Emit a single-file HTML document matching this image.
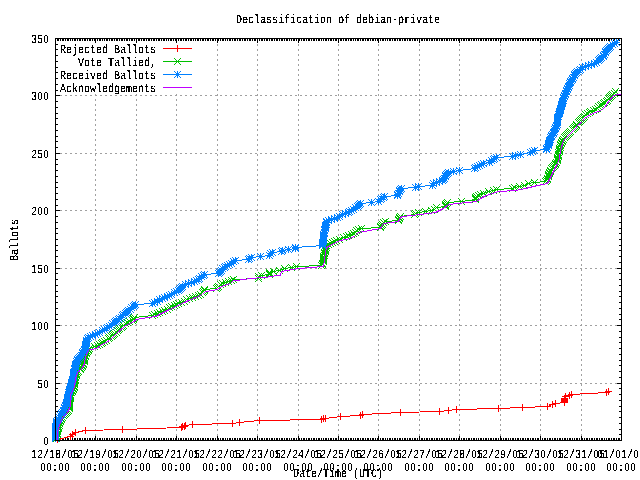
<!DOCTYPE html><html><head><meta charset="utf-8"><style>html,body{margin:0;padding:0;background:#fff;width:640px;height:480px;overflow:hidden}svg{display:block;will-change:transform}text{font-family:"Liberation Mono","DejaVu Sans Mono",monospace;font-size:12.0px;fill:#000;text-rendering:geometricPrecision}.z{font-family:"Liberation Sans",sans-serif;font-size:11.5px}</style></head><body>
<svg width="640" height="480" viewBox="0 0 640 480" shape-rendering="crispEdges">
<defs><filter id="crisp" filterUnits="userSpaceOnUse" x="0" y="0" width="640" height="480" color-interpolation-filters="sRGB"><feComponentTransfer><feFuncA type="discrete" tableValues="0 0 1 1 1"/></feComponentTransfer></filter></defs>
<rect width="640" height="480" fill="#fff"/>
<path d="M95.5 441V38M136.5 441V38M176.5 441V38M217.5 441V38M257.5 441V38M298.5 441V38M338.5 441V38M378.5 441V38M419.5 441V38M459.5 441V38M500.5 441V38M540.5 441V38M581.5 441V38M55 383.5H621M55 325.5H621M55 268.5H621M55 210.5H621M55 153.5H621M55 95.5H621" stroke="#a0a0a0" stroke-dasharray="2 3" fill="none"/>
<rect x="56" y="39" width="140" height="55" fill="#fff"/>
<path d="M55 440.5h5M622 440.5h-5M55 434.5h3M622 434.5h-3M55 429.5h3M622 429.5h-3M55 423.5h3M622 423.5h-3M55 417.5h3M622 417.5h-3M55 411.5h3M622 411.5h-3M55 406.5h3M622 406.5h-3M55 400.5h3M622 400.5h-3M55 394.5h3M622 394.5h-3M55 388.5h3M622 388.5h-3M55 383.5h5M622 383.5h-5M55 377.5h3M622 377.5h-3M55 371.5h3M622 371.5h-3M55 365.5h3M622 365.5h-3M55 360.5h3M622 360.5h-3M55 354.5h3M622 354.5h-3M55 348.5h3M622 348.5h-3M55 342.5h3M622 342.5h-3M55 337.5h3M622 337.5h-3M55 331.5h3M622 331.5h-3M55 325.5h5M622 325.5h-5M55 319.5h3M622 319.5h-3M55 314.5h3M622 314.5h-3M55 308.5h3M622 308.5h-3M55 302.5h3M622 302.5h-3M55 296.5h3M622 296.5h-3M55 291.5h3M622 291.5h-3M55 285.5h3M622 285.5h-3M55 279.5h3M622 279.5h-3M55 273.5h3M622 273.5h-3M55 268.5h5M622 268.5h-5M55 262.5h3M622 262.5h-3M55 256.5h3M622 256.5h-3M55 250.5h3M622 250.5h-3M55 245.5h3M622 245.5h-3M55 239.5h3M622 239.5h-3M55 233.5h3M622 233.5h-3M55 228.5h3M622 228.5h-3M55 222.5h3M622 222.5h-3M55 216.5h3M622 216.5h-3M55 210.5h5M622 210.5h-5M55 205.5h3M622 205.5h-3M55 199.5h3M622 199.5h-3M55 193.5h3M622 193.5h-3M55 187.5h3M622 187.5h-3M55 182.5h3M622 182.5h-3M55 176.5h3M622 176.5h-3M55 170.5h3M622 170.5h-3M55 164.5h3M622 164.5h-3M55 159.5h3M622 159.5h-3M55 153.5h5M622 153.5h-5M55 147.5h3M622 147.5h-3M55 141.5h3M622 141.5h-3M55 136.5h3M622 136.5h-3M55 130.5h3M622 130.5h-3M55 124.5h3M622 124.5h-3M55 118.5h3M622 118.5h-3M55 113.5h3M622 113.5h-3M55 107.5h3M622 107.5h-3M55 101.5h3M622 101.5h-3M55 95.5h5M622 95.5h-5M55 90.5h3M622 90.5h-3M55 84.5h3M622 84.5h-3M55 78.5h3M622 78.5h-3M55 72.5h3M622 72.5h-3M55 67.5h3M622 67.5h-3M55 61.5h3M622 61.5h-3M55 55.5h3M622 55.5h-3M55 49.5h3M622 49.5h-3M55 44.5h3M622 44.5h-3M55 38.5h5M622 38.5h-5M55.5 441v-5M55.5 38v5M57.5 441v-3M57.5 38v3M58.5 441v-3M58.5 38v3M60.5 441v-3M60.5 38v3M62.5 441v-3M62.5 38v3M63.5 441v-3M63.5 38v3M65.5 441v-3M65.5 38v3M67.5 441v-3M67.5 38v3M68.5 441v-3M68.5 38v3M70.5 441v-3M70.5 38v3M72.5 441v-3M72.5 38v3M74.5 441v-3M74.5 38v3M75.5 441v-3M75.5 38v3M77.5 441v-3M77.5 38v3M79.5 441v-3M79.5 38v3M80.5 441v-3M80.5 38v3M82.5 441v-3M82.5 38v3M84.5 441v-3M84.5 38v3M85.5 441v-3M85.5 38v3M87.5 441v-3M87.5 38v3M89.5 441v-3M89.5 38v3M90.5 441v-3M90.5 38v3M92.5 441v-3M92.5 38v3M94.5 441v-3M94.5 38v3M95.5 441v-5M95.5 38v5M97.5 441v-3M97.5 38v3M99.5 441v-3M99.5 38v3M100.5 441v-3M100.5 38v3M102.5 441v-3M102.5 38v3M104.5 441v-3M104.5 38v3M106.5 441v-3M106.5 38v3M107.5 441v-3M107.5 38v3M109.5 441v-3M109.5 38v3M111.5 441v-3M111.5 38v3M112.5 441v-3M112.5 38v3M114.5 441v-3M114.5 38v3M116.5 441v-3M116.5 38v3M117.5 441v-3M117.5 38v3M119.5 441v-3M119.5 38v3M121.5 441v-3M121.5 38v3M122.5 441v-3M122.5 38v3M124.5 441v-3M124.5 38v3M126.5 441v-3M126.5 38v3M127.5 441v-3M127.5 38v3M129.5 441v-3M129.5 38v3M131.5 441v-3M131.5 38v3M132.5 441v-3M132.5 38v3M134.5 441v-3M134.5 38v3M136.5 441v-5M136.5 38v5M138.5 441v-3M138.5 38v3M139.5 441v-3M139.5 38v3M141.5 441v-3M141.5 38v3M143.5 441v-3M143.5 38v3M144.5 441v-3M144.5 38v3M146.5 441v-3M146.5 38v3M148.5 441v-3M148.5 38v3M149.5 441v-3M149.5 38v3M151.5 441v-3M151.5 38v3M153.5 441v-3M153.5 38v3M154.5 441v-3M154.5 38v3M156.5 441v-3M156.5 38v3M158.5 441v-3M158.5 38v3M159.5 441v-3M159.5 38v3M161.5 441v-3M161.5 38v3M163.5 441v-3M163.5 38v3M164.5 441v-3M164.5 38v3M166.5 441v-3M166.5 38v3M168.5 441v-3M168.5 38v3M170.5 441v-3M170.5 38v3M171.5 441v-3M171.5 38v3M173.5 441v-3M173.5 38v3M175.5 441v-3M175.5 38v3M176.5 441v-5M176.5 38v5M178.5 441v-3M178.5 38v3M180.5 441v-3M180.5 38v3M181.5 441v-3M181.5 38v3M183.5 441v-3M183.5 38v3M185.5 441v-3M185.5 38v3M186.5 441v-3M186.5 38v3M188.5 441v-3M188.5 38v3M190.5 441v-3M190.5 38v3M191.5 441v-3M191.5 38v3M193.5 441v-3M193.5 38v3M195.5 441v-3M195.5 38v3M197.5 441v-3M197.5 38v3M198.5 441v-3M198.5 38v3M200.5 441v-3M200.5 38v3M202.5 441v-3M202.5 38v3M203.5 441v-3M203.5 38v3M205.5 441v-3M205.5 38v3M207.5 441v-3M207.5 38v3M208.5 441v-3M208.5 38v3M210.5 441v-3M210.5 38v3M212.5 441v-3M212.5 38v3M213.5 441v-3M213.5 38v3M215.5 441v-3M215.5 38v3M217.5 441v-5M217.5 38v5M218.5 441v-3M218.5 38v3M220.5 441v-3M220.5 38v3M222.5 441v-3M222.5 38v3M223.5 441v-3M223.5 38v3M225.5 441v-3M225.5 38v3M227.5 441v-3M227.5 38v3M229.5 441v-3M229.5 38v3M230.5 441v-3M230.5 38v3M232.5 441v-3M232.5 38v3M234.5 441v-3M234.5 38v3M235.5 441v-3M235.5 38v3M237.5 441v-3M237.5 38v3M239.5 441v-3M239.5 38v3M240.5 441v-3M240.5 38v3M242.5 441v-3M242.5 38v3M244.5 441v-3M244.5 38v3M245.5 441v-3M245.5 38v3M247.5 441v-3M247.5 38v3M249.5 441v-3M249.5 38v3M250.5 441v-3M250.5 38v3M252.5 441v-3M252.5 38v3M254.5 441v-3M254.5 38v3M255.5 441v-3M255.5 38v3M257.5 441v-5M257.5 38v5M259.5 441v-3M259.5 38v3M261.5 441v-3M261.5 38v3M262.5 441v-3M262.5 38v3M264.5 441v-3M264.5 38v3M266.5 441v-3M266.5 38v3M267.5 441v-3M267.5 38v3M269.5 441v-3M269.5 38v3M271.5 441v-3M271.5 38v3M272.5 441v-3M272.5 38v3M274.5 441v-3M274.5 38v3M276.5 441v-3M276.5 38v3M277.5 441v-3M277.5 38v3M279.5 441v-3M279.5 38v3M281.5 441v-3M281.5 38v3M282.5 441v-3M282.5 38v3M284.5 441v-3M284.5 38v3M286.5 441v-3M286.5 38v3M287.5 441v-3M287.5 38v3M289.5 441v-3M289.5 38v3M291.5 441v-3M291.5 38v3M293.5 441v-3M293.5 38v3M294.5 441v-3M294.5 38v3M296.5 441v-3M296.5 38v3M298.5 441v-5M298.5 38v5M299.5 441v-3M299.5 38v3M301.5 441v-3M301.5 38v3M303.5 441v-3M303.5 38v3M304.5 441v-3M304.5 38v3M306.5 441v-3M306.5 38v3M308.5 441v-3M308.5 38v3M309.5 441v-3M309.5 38v3M311.5 441v-3M311.5 38v3M313.5 441v-3M313.5 38v3M314.5 441v-3M314.5 38v3M316.5 441v-3M316.5 38v3M318.5 441v-3M318.5 38v3M319.5 441v-3M319.5 38v3M321.5 441v-3M321.5 38v3M323.5 441v-3M323.5 38v3M325.5 441v-3M325.5 38v3M326.5 441v-3M326.5 38v3M328.5 441v-3M328.5 38v3M330.5 441v-3M330.5 38v3M331.5 441v-3M331.5 38v3M333.5 441v-3M333.5 38v3M335.5 441v-3M335.5 38v3M336.5 441v-3M336.5 38v3M338.5 441v-5M338.5 38v5M340.5 441v-3M340.5 38v3M341.5 441v-3M341.5 38v3M343.5 441v-3M343.5 38v3M345.5 441v-3M345.5 38v3M346.5 441v-3M346.5 38v3M348.5 441v-3M348.5 38v3M350.5 441v-3M350.5 38v3M351.5 441v-3M351.5 38v3M353.5 441v-3M353.5 38v3M355.5 441v-3M355.5 38v3M357.5 441v-3M357.5 38v3M358.5 441v-3M358.5 38v3M360.5 441v-3M360.5 38v3M362.5 441v-3M362.5 38v3M363.5 441v-3M363.5 38v3M365.5 441v-3M365.5 38v3M367.5 441v-3M367.5 38v3M368.5 441v-3M368.5 38v3M370.5 441v-3M370.5 38v3M372.5 441v-3M372.5 38v3M373.5 441v-3M373.5 38v3M375.5 441v-3M375.5 38v3M377.5 441v-3M377.5 38v3M378.5 441v-5M378.5 38v5M380.5 441v-3M380.5 38v3M382.5 441v-3M382.5 38v3M383.5 441v-3M383.5 38v3M385.5 441v-3M385.5 38v3M387.5 441v-3M387.5 38v3M389.5 441v-3M389.5 38v3M390.5 441v-3M390.5 38v3M392.5 441v-3M392.5 38v3M394.5 441v-3M394.5 38v3M395.5 441v-3M395.5 38v3M397.5 441v-3M397.5 38v3M399.5 441v-3M399.5 38v3M400.5 441v-3M400.5 38v3M402.5 441v-3M402.5 38v3M404.5 441v-3M404.5 38v3M405.5 441v-3M405.5 38v3M407.5 441v-3M407.5 38v3M409.5 441v-3M409.5 38v3M410.5 441v-3M410.5 38v3M412.5 441v-3M412.5 38v3M414.5 441v-3M414.5 38v3M415.5 441v-3M415.5 38v3M417.5 441v-3M417.5 38v3M419.5 441v-5M419.5 38v5M421.5 441v-3M421.5 38v3M422.5 441v-3M422.5 38v3M424.5 441v-3M424.5 38v3M426.5 441v-3M426.5 38v3M427.5 441v-3M427.5 38v3M429.5 441v-3M429.5 38v3M431.5 441v-3M431.5 38v3M432.5 441v-3M432.5 38v3M434.5 441v-3M434.5 38v3M436.5 441v-3M436.5 38v3M437.5 441v-3M437.5 38v3M439.5 441v-3M439.5 38v3M441.5 441v-3M441.5 38v3M442.5 441v-3M442.5 38v3M444.5 441v-3M444.5 38v3M446.5 441v-3M446.5 38v3M447.5 441v-3M447.5 38v3M449.5 441v-3M449.5 38v3M451.5 441v-3M451.5 38v3M453.5 441v-3M453.5 38v3M454.5 441v-3M454.5 38v3M456.5 441v-3M456.5 38v3M458.5 441v-3M458.5 38v3M459.5 441v-5M459.5 38v5M461.5 441v-3M461.5 38v3M463.5 441v-3M463.5 38v3M464.5 441v-3M464.5 38v3M466.5 441v-3M466.5 38v3M468.5 441v-3M468.5 38v3M469.5 441v-3M469.5 38v3M471.5 441v-3M471.5 38v3M473.5 441v-3M473.5 38v3M474.5 441v-3M474.5 38v3M476.5 441v-3M476.5 38v3M478.5 441v-3M478.5 38v3M480.5 441v-3M480.5 38v3M481.5 441v-3M481.5 38v3M483.5 441v-3M483.5 38v3M485.5 441v-3M485.5 38v3M486.5 441v-3M486.5 38v3M488.5 441v-3M488.5 38v3M490.5 441v-3M490.5 38v3M491.5 441v-3M491.5 38v3M493.5 441v-3M493.5 38v3M495.5 441v-3M495.5 38v3M496.5 441v-3M496.5 38v3M498.5 441v-3M498.5 38v3M500.5 441v-5M500.5 38v5M501.5 441v-3M501.5 38v3M503.5 441v-3M503.5 38v3M505.5 441v-3M505.5 38v3M506.5 441v-3M506.5 38v3M508.5 441v-3M508.5 38v3M510.5 441v-3M510.5 38v3M512.5 441v-3M512.5 38v3M513.5 441v-3M513.5 38v3M515.5 441v-3M515.5 38v3M517.5 441v-3M517.5 38v3M518.5 441v-3M518.5 38v3M520.5 441v-3M520.5 38v3M522.5 441v-3M522.5 38v3M523.5 441v-3M523.5 38v3M525.5 441v-3M525.5 38v3M527.5 441v-3M527.5 38v3M528.5 441v-3M528.5 38v3M530.5 441v-3M530.5 38v3M532.5 441v-3M532.5 38v3M533.5 441v-3M533.5 38v3M535.5 441v-3M535.5 38v3M537.5 441v-3M537.5 38v3M538.5 441v-3M538.5 38v3M540.5 441v-5M540.5 38v5M542.5 441v-3M542.5 38v3M544.5 441v-3M544.5 38v3M545.5 441v-3M545.5 38v3M547.5 441v-3M547.5 38v3M549.5 441v-3M549.5 38v3M550.5 441v-3M550.5 38v3M552.5 441v-3M552.5 38v3M554.5 441v-3M554.5 38v3M555.5 441v-3M555.5 38v3M557.5 441v-3M557.5 38v3M559.5 441v-3M559.5 38v3M560.5 441v-3M560.5 38v3M562.5 441v-3M562.5 38v3M564.5 441v-3M564.5 38v3M565.5 441v-3M565.5 38v3M567.5 441v-3M567.5 38v3M569.5 441v-3M569.5 38v3M570.5 441v-3M570.5 38v3M572.5 441v-3M572.5 38v3M574.5 441v-3M574.5 38v3M576.5 441v-3M576.5 38v3M577.5 441v-3M577.5 38v3M579.5 441v-3M579.5 38v3M581.5 441v-5M581.5 38v5M582.5 441v-3M582.5 38v3M584.5 441v-3M584.5 38v3M586.5 441v-3M586.5 38v3M587.5 441v-3M587.5 38v3M589.5 441v-3M589.5 38v3M591.5 441v-3M591.5 38v3M592.5 441v-3M592.5 38v3M594.5 441v-3M594.5 38v3M596.5 441v-3M596.5 38v3M597.5 441v-3M597.5 38v3M599.5 441v-3M599.5 38v3M601.5 441v-3M601.5 38v3M602.5 441v-3M602.5 38v3M604.5 441v-3M604.5 38v3M606.5 441v-3M606.5 38v3M608.5 441v-3M608.5 38v3M609.5 441v-3M609.5 38v3M611.5 441v-3M611.5 38v3M613.5 441v-3M613.5 38v3M614.5 441v-3M614.5 38v3M616.5 441v-3M616.5 38v3M618.5 441v-3M618.5 38v3M619.5 441v-3M619.5 38v3M621.5 441v-5M621.5 38v5" stroke="#000" fill="none"/>
<path d="M163 48.5H192" stroke="#ff0000"/>
<path d="M174 48.5h7M177.5 45v7" fill="none" stroke="#ff0000"/>
<path d="M163 61.5H192" stroke="#00c000"/>
<path d="M174 58l7 7M174 65l7 -7" fill="none" stroke="#00c000"/>
<path d="M163 74.5H192" stroke="#0080ff"/>
<path d="M174 74.5h7M177.5 71v7M174 71l7 7M174 78l7 -7" fill="none" stroke="#0080ff"/>
<path d="M163 87.5H192" stroke="#c000ff"/>
<polyline points="57.5,439.5 70.5,436.5 72.5,434.5 75.5,432.5 85.5,430.5 122.5,429.5 181.5,427.5 182.5,426.5 184.5,426.5 185.5,425.5 192.5,424.5 232.5,423.5 239.5,422.5 259.5,420.5 321.5,419.5 323.5,418.5 325.5,418.5 340.5,416.5 360.5,415.5 362.5,414.5 400.5,412.5 439.5,411.5 448.5,410.5 456.5,409.5 498.5,408.5 522.5,407.5 547.5,406.5 552.5,404.5 555.5,403.5 564.5,402.5 564.5,401.5 564.5,400.5 564.5,399.5 564.5,398.5 565.5,396.5 569.5,395.5 571.5,394.5 606.5,392.5 608.5,391.5" fill="none" stroke="#ff0000" />
<path d="M54 439.5h7M57.5 436v7M67 436.5h7M70.5 433v7M69 434.5h7M72.5 431v7M72 432.5h7M75.5 429v7M82 430.5h7M85.5 427v7M119 429.5h7M122.5 426v7M178 427.5h7M181.5 424v7M179 426.5h7M182.5 423v7M181 426.5h7M184.5 423v7M182 425.5h7M185.5 422v7M189 424.5h7M192.5 421v7M229 423.5h7M232.5 420v7M236 422.5h7M239.5 419v7M256 420.5h7M259.5 417v7M318 419.5h7M321.5 416v7M320 418.5h7M323.5 415v7M322 418.5h7M325.5 415v7M337 416.5h7M340.5 413v7M357 415.5h7M360.5 412v7M359 414.5h7M362.5 411v7M397 412.5h7M400.5 409v7M436 411.5h7M439.5 408v7M445 410.5h7M448.5 407v7M453 409.5h7M456.5 406v7M495 408.5h7M498.5 405v7M519 407.5h7M522.5 404v7M544 406.5h7M547.5 403v7M549 404.5h7M552.5 401v7M552 403.5h7M555.5 400v7M561 402.5h7M564.5 399v7M561 401.5h7M564.5 398v7M561 400.5h7M564.5 397v7M561 399.5h7M564.5 396v7M561 398.5h7M564.5 395v7M562 396.5h7M565.5 393v7M566 395.5h7M569.5 392v7M568 394.5h7M571.5 391v7M603 392.5h7M606.5 389v7M605 391.5h7M608.5 388v7" fill="none" stroke="#ff0000"/>
<polyline points="56.5,438.5 56.5,437.5 56.5,436.5 56.5,435.5 57.5,434.5 57.5,433.5 57.5,431.5 57.5,430.5 57.5,429.5 58.5,428.5 58.5,427.5 58.5,426.5 59.5,425.5 59.5,423.5 59.5,422.5 60.5,421.5 60.5,420.5 61.5,419.5 61.5,418.5 62.5,417.5 63.5,415.5 64.5,414.5 65.5,413.5 66.5,412.5 67.5,411.5 68.5,410.5 69.5,408.5 69.5,407.5 69.5,406.5 69.5,405.5 69.5,404.5 69.5,403.5 69.5,402.5 69.5,400.5 69.5,399.5 70.5,398.5 70.5,397.5 70.5,396.5 70.5,395.5 70.5,394.5 71.5,392.5 72.5,391.5 72.5,390.5 73.5,389.5 73.5,388.5 74.5,387.5 74.5,386.5 74.5,384.5 74.5,383.5 74.5,382.5 74.5,381.5 75.5,380.5 75.5,379.5 75.5,377.5 75.5,376.5 76.5,375.5 76.5,374.5 76.5,373.5 77.5,372.5 78.5,371.5 80.5,369.5 80.5,368.5 81.5,367.5 82.5,366.5 82.5,365.5 83.5,364.5 83.5,363.5 84.5,361.5 84.5,360.5 84.5,359.5 84.5,358.5 84.5,357.5 85.5,356.5 85.5,355.5 86.5,353.5 86.5,352.5 87.5,351.5 88.5,350.5 88.5,349.5 89.5,348.5 94.5,346.5 97.5,345.5 99.5,344.5 101.5,343.5 102.5,342.5 104.5,341.5 106.5,340.5 108.5,338.5 109.5,337.5 111.5,336.5 112.5,335.5 113.5,334.5 114.5,333.5 116.5,332.5 117.5,330.5 118.5,329.5 119.5,328.5 121.5,327.5 122.5,326.5 123.5,325.5 125.5,323.5 127.5,322.5 129.5,321.5 132.5,320.5 133.5,319.5 133.5,318.5 134.5,317.5 152.5,315.5 154.5,314.5 157.5,313.5 159.5,312.5 162.5,311.5 164.5,310.5 167.5,309.5 169.5,307.5 171.5,306.5 174.5,305.5 176.5,304.5 178.5,303.5 181.5,302.5 184.5,301.5 186.5,299.5 189.5,298.5 192.5,297.5 195.5,296.5 198.5,295.5 200.5,294.5 202.5,292.5 203.5,291.5 204.5,290.5 204.5,289.5 216.5,288.5 217.5,287.5 218.5,286.5 220.5,284.5 222.5,283.5 225.5,282.5 228.5,281.5 231.5,280.5 233.5,279.5 258.5,278.5 258.5,276.5 261.5,275.5 269.5,274.5 269.5,273.5 269.5,272.5 273.5,271.5 279.5,270.5 284.5,268.5 291.5,267.5 296.5,266.5 321.5,265.5 322.5,264.5 322.5,263.5 323.5,261.5 323.5,260.5 323.5,259.5 323.5,258.5 323.5,257.5 323.5,256.5 324.5,255.5 324.5,253.5 324.5,252.5 325.5,251.5 325.5,250.5 325.5,249.5 325.5,248.5 326.5,247.5 326.5,245.5 328.5,244.5 330.5,243.5 332.5,242.5 334.5,241.5 336.5,240.5 339.5,239.5 343.5,237.5 346.5,236.5 348.5,235.5 351.5,234.5 353.5,233.5 355.5,232.5 356.5,230.5 358.5,229.5 361.5,228.5 380.5,227.5 380.5,226.5 381.5,225.5 382.5,224.5 383.5,222.5 385.5,221.5 398.5,220.5 398.5,219.5 399.5,218.5 399.5,217.5 400.5,216.5 414.5,214.5 415.5,213.5 418.5,212.5 425.5,211.5 431.5,210.5 434.5,209.5 436.5,207.5 445.5,206.5 445.5,205.5 445.5,204.5 446.5,203.5 447.5,202.5 461.5,201.5 475.5,199.5 475.5,198.5 475.5,197.5 476.5,196.5 478.5,195.5 480.5,194.5 483.5,193.5 488.5,191.5 493.5,190.5 496.5,189.5 512.5,188.5 514.5,187.5 519.5,186.5 524.5,185.5 528.5,183.5 534.5,182.5 545.5,181.5 546.5,180.5 547.5,179.5 547.5,178.5 548.5,176.5 548.5,175.5 548.5,174.5 549.5,173.5 549.5,172.5 550.5,171.5 550.5,170.5 551.5,168.5 552.5,167.5 553.5,166.5 554.5,165.5 555.5,164.5 555.5,163.5 556.5,162.5 557.5,160.5 557.5,159.5 557.5,158.5 557.5,157.5 558.5,156.5 558.5,155.5 558.5,154.5 558.5,152.5 559.5,151.5 559.5,150.5 559.5,149.5 559.5,148.5 560.5,147.5 560.5,145.5 560.5,144.5 561.5,143.5 561.5,142.5 562.5,141.5 562.5,140.5 563.5,139.5 564.5,137.5 565.5,136.5 566.5,135.5 567.5,134.5 568.5,133.5 569.5,132.5 570.5,131.5 572.5,129.5 573.5,128.5 574.5,127.5 575.5,126.5 576.5,125.5 576.5,124.5 578.5,122.5 579.5,121.5 580.5,120.5 581.5,119.5 582.5,118.5 583.5,117.5 584.5,116.5 585.5,114.5 587.5,113.5 589.5,112.5 590.5,111.5 593.5,110.5 595.5,109.5 597.5,108.5 598.5,106.5 600.5,105.5 601.5,104.5 603.5,103.5 604.5,102.5 606.5,101.5 607.5,100.5 608.5,98.5 609.5,97.5 610.5,96.5 611.5,95.5 612.5,94.5 614.5,93.5 615.5,91.5" fill="none" stroke="#00c000" />
<path d="M53 435l7 7M53 442l7 -7M53 434l7 7M53 441l7 -7M53 433l7 7M53 440l7 -7M53 432l7 7M53 439l7 -7M54 431l7 7M54 438l7 -7M54 430l7 7M54 437l7 -7M54 428l7 7M54 435l7 -7M54 427l7 7M54 434l7 -7M54 426l7 7M54 433l7 -7M55 425l7 7M55 432l7 -7M55 424l7 7M55 431l7 -7M55 423l7 7M55 430l7 -7M56 422l7 7M56 429l7 -7M56 420l7 7M56 427l7 -7M56 419l7 7M56 426l7 -7M57 418l7 7M57 425l7 -7M57 417l7 7M57 424l7 -7M58 416l7 7M58 423l7 -7M58 415l7 7M58 422l7 -7M59 414l7 7M59 421l7 -7M60 412l7 7M60 419l7 -7M61 411l7 7M61 418l7 -7M62 410l7 7M62 417l7 -7M63 409l7 7M63 416l7 -7M64 408l7 7M64 415l7 -7M65 407l7 7M65 414l7 -7M66 405l7 7M66 412l7 -7M66 404l7 7M66 411l7 -7M66 403l7 7M66 410l7 -7M66 402l7 7M66 409l7 -7M66 401l7 7M66 408l7 -7M66 400l7 7M66 407l7 -7M66 399l7 7M66 406l7 -7M66 397l7 7M66 404l7 -7M66 396l7 7M66 403l7 -7M67 395l7 7M67 402l7 -7M67 394l7 7M67 401l7 -7M67 393l7 7M67 400l7 -7M67 392l7 7M67 399l7 -7M67 391l7 7M67 398l7 -7M68 389l7 7M68 396l7 -7M69 388l7 7M69 395l7 -7M69 387l7 7M69 394l7 -7M70 386l7 7M70 393l7 -7M70 385l7 7M70 392l7 -7M71 384l7 7M71 391l7 -7M71 383l7 7M71 390l7 -7M71 381l7 7M71 388l7 -7M71 380l7 7M71 387l7 -7M71 379l7 7M71 386l7 -7M71 378l7 7M71 385l7 -7M72 377l7 7M72 384l7 -7M72 376l7 7M72 383l7 -7M72 374l7 7M72 381l7 -7M72 373l7 7M72 380l7 -7M73 372l7 7M73 379l7 -7M73 371l7 7M73 378l7 -7M73 370l7 7M73 377l7 -7M74 369l7 7M74 376l7 -7M75 368l7 7M75 375l7 -7M77 366l7 7M77 373l7 -7M77 365l7 7M77 372l7 -7M78 364l7 7M78 371l7 -7M79 363l7 7M79 370l7 -7M79 362l7 7M79 369l7 -7M80 361l7 7M80 368l7 -7M80 360l7 7M80 367l7 -7M81 358l7 7M81 365l7 -7M81 357l7 7M81 364l7 -7M81 356l7 7M81 363l7 -7M81 355l7 7M81 362l7 -7M81 354l7 7M81 361l7 -7M82 353l7 7M82 360l7 -7M82 352l7 7M82 359l7 -7M83 350l7 7M83 357l7 -7M83 349l7 7M83 356l7 -7M84 348l7 7M84 355l7 -7M85 347l7 7M85 354l7 -7M85 346l7 7M85 353l7 -7M86 345l7 7M86 352l7 -7M91 343l7 7M91 350l7 -7M94 342l7 7M94 349l7 -7M96 341l7 7M96 348l7 -7M98 340l7 7M98 347l7 -7M99 339l7 7M99 346l7 -7M101 338l7 7M101 345l7 -7M103 337l7 7M103 344l7 -7M105 335l7 7M105 342l7 -7M106 334l7 7M106 341l7 -7M108 333l7 7M108 340l7 -7M109 332l7 7M109 339l7 -7M110 331l7 7M110 338l7 -7M111 330l7 7M111 337l7 -7M113 329l7 7M113 336l7 -7M114 327l7 7M114 334l7 -7M115 326l7 7M115 333l7 -7M116 325l7 7M116 332l7 -7M118 324l7 7M118 331l7 -7M119 323l7 7M119 330l7 -7M120 322l7 7M120 329l7 -7M122 320l7 7M122 327l7 -7M124 319l7 7M124 326l7 -7M126 318l7 7M126 325l7 -7M129 317l7 7M129 324l7 -7M130 316l7 7M130 323l7 -7M130 315l7 7M130 322l7 -7M131 314l7 7M131 321l7 -7M149 312l7 7M149 319l7 -7M151 311l7 7M151 318l7 -7M154 310l7 7M154 317l7 -7M156 309l7 7M156 316l7 -7M159 308l7 7M159 315l7 -7M161 307l7 7M161 314l7 -7M164 306l7 7M164 313l7 -7M166 304l7 7M166 311l7 -7M168 303l7 7M168 310l7 -7M171 302l7 7M171 309l7 -7M173 301l7 7M173 308l7 -7M175 300l7 7M175 307l7 -7M178 299l7 7M178 306l7 -7M181 298l7 7M181 305l7 -7M183 296l7 7M183 303l7 -7M186 295l7 7M186 302l7 -7M189 294l7 7M189 301l7 -7M192 293l7 7M192 300l7 -7M195 292l7 7M195 299l7 -7M197 291l7 7M197 298l7 -7M199 289l7 7M199 296l7 -7M200 288l7 7M200 295l7 -7M201 287l7 7M201 294l7 -7M201 286l7 7M201 293l7 -7M213 285l7 7M213 292l7 -7M214 284l7 7M214 291l7 -7M215 283l7 7M215 290l7 -7M217 281l7 7M217 288l7 -7M219 280l7 7M219 287l7 -7M222 279l7 7M222 286l7 -7M225 278l7 7M225 285l7 -7M228 277l7 7M228 284l7 -7M230 276l7 7M230 283l7 -7M255 275l7 7M255 282l7 -7M255 273l7 7M255 280l7 -7M258 272l7 7M258 279l7 -7M266 271l7 7M266 278l7 -7M266 270l7 7M266 277l7 -7M266 269l7 7M266 276l7 -7M270 268l7 7M270 275l7 -7M276 267l7 7M276 274l7 -7M281 265l7 7M281 272l7 -7M288 264l7 7M288 271l7 -7M293 263l7 7M293 270l7 -7M318 262l7 7M318 269l7 -7M319 261l7 7M319 268l7 -7M319 260l7 7M319 267l7 -7M320 258l7 7M320 265l7 -7M320 257l7 7M320 264l7 -7M320 256l7 7M320 263l7 -7M320 255l7 7M320 262l7 -7M320 254l7 7M320 261l7 -7M320 253l7 7M320 260l7 -7M321 252l7 7M321 259l7 -7M321 250l7 7M321 257l7 -7M321 249l7 7M321 256l7 -7M322 248l7 7M322 255l7 -7M322 247l7 7M322 254l7 -7M322 246l7 7M322 253l7 -7M322 245l7 7M322 252l7 -7M323 244l7 7M323 251l7 -7M323 242l7 7M323 249l7 -7M325 241l7 7M325 248l7 -7M327 240l7 7M327 247l7 -7M329 239l7 7M329 246l7 -7M331 238l7 7M331 245l7 -7M333 237l7 7M333 244l7 -7M336 236l7 7M336 243l7 -7M340 234l7 7M340 241l7 -7M343 233l7 7M343 240l7 -7M345 232l7 7M345 239l7 -7M348 231l7 7M348 238l7 -7M350 230l7 7M350 237l7 -7M352 229l7 7M352 236l7 -7M353 227l7 7M353 234l7 -7M355 226l7 7M355 233l7 -7M358 225l7 7M358 232l7 -7M377 224l7 7M377 231l7 -7M377 223l7 7M377 230l7 -7M378 222l7 7M378 229l7 -7M379 221l7 7M379 228l7 -7M380 219l7 7M380 226l7 -7M382 218l7 7M382 225l7 -7M395 217l7 7M395 224l7 -7M395 216l7 7M395 223l7 -7M396 215l7 7M396 222l7 -7M396 214l7 7M396 221l7 -7M397 213l7 7M397 220l7 -7M411 211l7 7M411 218l7 -7M412 210l7 7M412 217l7 -7M415 209l7 7M415 216l7 -7M422 208l7 7M422 215l7 -7M428 207l7 7M428 214l7 -7M431 206l7 7M431 213l7 -7M433 204l7 7M433 211l7 -7M442 203l7 7M442 210l7 -7M442 202l7 7M442 209l7 -7M442 201l7 7M442 208l7 -7M443 200l7 7M443 207l7 -7M444 199l7 7M444 206l7 -7M458 198l7 7M458 205l7 -7M472 196l7 7M472 203l7 -7M472 195l7 7M472 202l7 -7M472 194l7 7M472 201l7 -7M473 193l7 7M473 200l7 -7M475 192l7 7M475 199l7 -7M477 191l7 7M477 198l7 -7M480 190l7 7M480 197l7 -7M485 188l7 7M485 195l7 -7M490 187l7 7M490 194l7 -7M493 186l7 7M493 193l7 -7M509 185l7 7M509 192l7 -7M511 184l7 7M511 191l7 -7M516 183l7 7M516 190l7 -7M521 182l7 7M521 189l7 -7M525 180l7 7M525 187l7 -7M531 179l7 7M531 186l7 -7M542 178l7 7M542 185l7 -7M543 177l7 7M543 184l7 -7M544 176l7 7M544 183l7 -7M544 175l7 7M544 182l7 -7M545 173l7 7M545 180l7 -7M545 172l7 7M545 179l7 -7M545 171l7 7M545 178l7 -7M546 170l7 7M546 177l7 -7M546 169l7 7M546 176l7 -7M547 168l7 7M547 175l7 -7M547 167l7 7M547 174l7 -7M548 165l7 7M548 172l7 -7M549 164l7 7M549 171l7 -7M550 163l7 7M550 170l7 -7M551 162l7 7M551 169l7 -7M552 161l7 7M552 168l7 -7M552 160l7 7M552 167l7 -7M553 159l7 7M553 166l7 -7M554 157l7 7M554 164l7 -7M554 156l7 7M554 163l7 -7M554 155l7 7M554 162l7 -7M554 154l7 7M554 161l7 -7M555 153l7 7M555 160l7 -7M555 152l7 7M555 159l7 -7M555 151l7 7M555 158l7 -7M555 149l7 7M555 156l7 -7M556 148l7 7M556 155l7 -7M556 147l7 7M556 154l7 -7M556 146l7 7M556 153l7 -7M556 145l7 7M556 152l7 -7M557 144l7 7M557 151l7 -7M557 142l7 7M557 149l7 -7M557 141l7 7M557 148l7 -7M558 140l7 7M558 147l7 -7M558 139l7 7M558 146l7 -7M559 138l7 7M559 145l7 -7M559 137l7 7M559 144l7 -7M560 136l7 7M560 143l7 -7M561 134l7 7M561 141l7 -7M562 133l7 7M562 140l7 -7M563 132l7 7M563 139l7 -7M564 131l7 7M564 138l7 -7M565 130l7 7M565 137l7 -7M566 129l7 7M566 136l7 -7M567 128l7 7M567 135l7 -7M569 126l7 7M569 133l7 -7M570 125l7 7M570 132l7 -7M571 124l7 7M571 131l7 -7M572 123l7 7M572 130l7 -7M573 122l7 7M573 129l7 -7M573 121l7 7M573 128l7 -7M575 119l7 7M575 126l7 -7M576 118l7 7M576 125l7 -7M577 117l7 7M577 124l7 -7M578 116l7 7M578 123l7 -7M579 115l7 7M579 122l7 -7M580 114l7 7M580 121l7 -7M581 113l7 7M581 120l7 -7M582 111l7 7M582 118l7 -7M584 110l7 7M584 117l7 -7M586 109l7 7M586 116l7 -7M587 108l7 7M587 115l7 -7M590 107l7 7M590 114l7 -7M592 106l7 7M592 113l7 -7M594 105l7 7M594 112l7 -7M595 103l7 7M595 110l7 -7M597 102l7 7M597 109l7 -7M598 101l7 7M598 108l7 -7M600 100l7 7M600 107l7 -7M601 99l7 7M601 106l7 -7M603 98l7 7M603 105l7 -7M604 97l7 7M604 104l7 -7M605 95l7 7M605 102l7 -7M606 94l7 7M606 101l7 -7M607 93l7 7M607 100l7 -7M608 92l7 7M608 99l7 -7M609 91l7 7M609 98l7 -7M611 90l7 7M611 97l7 -7M612 88l7 7M612 95l7 -7" fill="none" stroke="#00c000"/>
<polyline points="55.5,438.5 55.5,437.5 55.5,436.5 55.5,435.5 55.5,434.5 55.5,433.5 55.5,431.5 55.5,430.5 55.5,429.5 55.5,428.5 55.5,427.5 55.5,426.5 56.5,425.5 56.5,423.5 56.5,422.5 56.5,421.5 57.5,420.5 58.5,419.5 58.5,418.5 59.5,417.5 60.5,415.5 61.5,414.5 61.5,413.5 62.5,412.5 63.5,411.5 63.5,410.5 64.5,408.5 64.5,407.5 65.5,406.5 65.5,405.5 66.5,404.5 66.5,403.5 66.5,402.5 67.5,400.5 67.5,399.5 67.5,398.5 67.5,397.5 68.5,396.5 68.5,395.5 68.5,394.5 68.5,392.5 69.5,391.5 69.5,390.5 69.5,389.5 70.5,388.5 70.5,387.5 70.5,386.5 71.5,384.5 71.5,383.5 71.5,382.5 72.5,381.5 72.5,380.5 72.5,379.5 73.5,377.5 73.5,376.5 73.5,375.5 73.5,374.5 73.5,373.5 73.5,372.5 74.5,371.5 74.5,369.5 74.5,368.5 75.5,367.5 75.5,366.5 75.5,365.5 75.5,364.5 76.5,363.5 76.5,361.5 77.5,360.5 77.5,359.5 78.5,358.5 79.5,357.5 80.5,356.5 81.5,355.5 82.5,353.5 82.5,352.5 83.5,351.5 84.5,350.5 84.5,349.5 85.5,348.5 85.5,346.5 85.5,345.5 85.5,344.5 86.5,343.5 86.5,342.5 86.5,341.5 86.5,340.5 87.5,338.5 88.5,337.5 90.5,336.5 92.5,335.5 95.5,334.5 97.5,333.5 99.5,332.5 102.5,330.5 104.5,329.5 106.5,328.5 107.5,327.5 109.5,326.5 111.5,325.5 112.5,323.5 114.5,322.5 115.5,321.5 116.5,320.5 118.5,319.5 119.5,318.5 121.5,317.5 122.5,315.5 123.5,314.5 125.5,313.5 126.5,312.5 127.5,311.5 128.5,310.5 130.5,309.5 131.5,307.5 133.5,306.5 134.5,305.5 135.5,304.5 152.5,303.5 154.5,302.5 157.5,301.5 159.5,299.5 162.5,298.5 164.5,297.5 167.5,296.5 169.5,295.5 171.5,294.5 174.5,292.5 176.5,291.5 178.5,290.5 179.5,289.5 180.5,288.5 181.5,287.5 182.5,286.5 185.5,284.5 188.5,283.5 191.5,282.5 194.5,281.5 196.5,280.5 198.5,279.5 199.5,278.5 201.5,276.5 203.5,275.5 204.5,274.5 218.5,273.5 219.5,272.5 220.5,271.5 221.5,270.5 222.5,268.5 224.5,267.5 225.5,266.5 227.5,265.5 229.5,264.5 231.5,263.5 233.5,261.5 235.5,260.5 248.5,259.5 249.5,258.5 251.5,257.5 260.5,256.5 269.5,255.5 270.5,253.5 272.5,252.5 281.5,251.5 282.5,250.5 288.5,249.5 295.5,248.5 295.5,247.5 322.5,245.5 322.5,244.5 322.5,243.5 322.5,242.5 323.5,241.5 323.5,240.5 323.5,239.5 323.5,237.5 323.5,236.5 323.5,235.5 323.5,234.5 324.5,233.5 324.5,232.5 324.5,230.5 324.5,229.5 325.5,228.5 325.5,227.5 325.5,226.5 325.5,225.5 326.5,224.5 326.5,222.5 326.5,221.5 328.5,220.5 331.5,219.5 334.5,218.5 337.5,217.5 339.5,216.5 342.5,214.5 345.5,213.5 348.5,212.5 349.5,211.5 351.5,210.5 353.5,209.5 355.5,207.5 357.5,206.5 358.5,205.5 359.5,204.5 360.5,203.5 371.5,202.5 378.5,201.5 380.5,199.5 381.5,198.5 383.5,197.5 384.5,196.5 397.5,195.5 397.5,194.5 398.5,193.5 399.5,191.5 399.5,190.5 400.5,189.5 401.5,188.5 415.5,187.5 418.5,186.5 432.5,185.5 433.5,183.5 436.5,182.5 439.5,181.5 442.5,180.5 443.5,179.5 444.5,178.5 445.5,176.5 445.5,175.5 446.5,174.5 447.5,173.5 448.5,172.5 453.5,171.5 459.5,170.5 474.5,168.5 475.5,167.5 477.5,166.5 479.5,165.5 481.5,164.5 483.5,163.5 489.5,162.5 491.5,160.5 493.5,159.5 494.5,158.5 496.5,157.5 512.5,156.5 515.5,155.5 520.5,154.5 530.5,152.5 532.5,151.5 534.5,150.5 546.5,149.5 546.5,148.5 547.5,147.5 548.5,145.5 548.5,144.5 548.5,143.5 549.5,142.5 549.5,141.5 549.5,140.5 550.5,139.5 550.5,137.5 551.5,136.5 551.5,135.5 552.5,134.5 553.5,133.5 553.5,132.5 554.5,131.5 554.5,129.5 555.5,128.5 555.5,127.5 556.5,126.5 556.5,125.5 557.5,124.5 557.5,122.5 557.5,121.5 557.5,120.5 557.5,119.5 557.5,118.5 557.5,117.5 558.5,116.5 558.5,114.5 559.5,113.5 559.5,112.5 559.5,111.5 560.5,110.5 560.5,109.5 560.5,108.5 561.5,106.5 561.5,105.5 561.5,104.5 562.5,103.5 562.5,102.5 562.5,101.5 563.5,100.5 563.5,98.5 563.5,97.5 564.5,96.5 564.5,95.5 565.5,94.5 565.5,93.5 566.5,91.5 566.5,90.5 567.5,89.5 567.5,88.5 568.5,87.5 568.5,86.5 569.5,85.5 569.5,83.5 570.5,82.5 570.5,81.5 571.5,80.5 572.5,79.5 572.5,78.5 573.5,77.5 574.5,75.5 574.5,74.5 575.5,73.5 576.5,72.5 577.5,71.5 579.5,70.5 580.5,69.5 582.5,67.5 585.5,66.5 588.5,65.5 591.5,64.5 594.5,63.5 596.5,62.5 598.5,60.5 599.5,59.5 600.5,58.5 601.5,57.5 603.5,56.5 603.5,55.5 604.5,54.5 605.5,52.5 605.5,51.5 606.5,50.5 607.5,49.5 608.5,48.5 609.5,47.5 610.5,46.5 612.5,44.5 614.5,43.5 616.5,42.5" fill="none" stroke="#0080ff" />
<path d="M52 438.5h7M55.5 435v7M52 435l7 7M52 442l7 -7M52 437.5h7M55.5 434v7M52 434l7 7M52 441l7 -7M52 436.5h7M55.5 433v7M52 433l7 7M52 440l7 -7M52 435.5h7M55.5 432v7M52 432l7 7M52 439l7 -7M52 434.5h7M55.5 431v7M52 431l7 7M52 438l7 -7M52 433.5h7M55.5 430v7M52 430l7 7M52 437l7 -7M52 431.5h7M55.5 428v7M52 428l7 7M52 435l7 -7M52 430.5h7M55.5 427v7M52 427l7 7M52 434l7 -7M52 429.5h7M55.5 426v7M52 426l7 7M52 433l7 -7M52 428.5h7M55.5 425v7M52 425l7 7M52 432l7 -7M52 427.5h7M55.5 424v7M52 424l7 7M52 431l7 -7M52 426.5h7M55.5 423v7M52 423l7 7M52 430l7 -7M53 425.5h7M56.5 422v7M53 422l7 7M53 429l7 -7M53 423.5h7M56.5 420v7M53 420l7 7M53 427l7 -7M53 422.5h7M56.5 419v7M53 419l7 7M53 426l7 -7M53 421.5h7M56.5 418v7M53 418l7 7M53 425l7 -7M54 420.5h7M57.5 417v7M54 417l7 7M54 424l7 -7M55 419.5h7M58.5 416v7M55 416l7 7M55 423l7 -7M55 418.5h7M58.5 415v7M55 415l7 7M55 422l7 -7M56 417.5h7M59.5 414v7M56 414l7 7M56 421l7 -7M57 415.5h7M60.5 412v7M57 412l7 7M57 419l7 -7M58 414.5h7M61.5 411v7M58 411l7 7M58 418l7 -7M58 413.5h7M61.5 410v7M58 410l7 7M58 417l7 -7M59 412.5h7M62.5 409v7M59 409l7 7M59 416l7 -7M60 411.5h7M63.5 408v7M60 408l7 7M60 415l7 -7M60 410.5h7M63.5 407v7M60 407l7 7M60 414l7 -7M61 408.5h7M64.5 405v7M61 405l7 7M61 412l7 -7M61 407.5h7M64.5 404v7M61 404l7 7M61 411l7 -7M62 406.5h7M65.5 403v7M62 403l7 7M62 410l7 -7M62 405.5h7M65.5 402v7M62 402l7 7M62 409l7 -7M63 404.5h7M66.5 401v7M63 401l7 7M63 408l7 -7M63 403.5h7M66.5 400v7M63 400l7 7M63 407l7 -7M63 402.5h7M66.5 399v7M63 399l7 7M63 406l7 -7M64 400.5h7M67.5 397v7M64 397l7 7M64 404l7 -7M64 399.5h7M67.5 396v7M64 396l7 7M64 403l7 -7M64 398.5h7M67.5 395v7M64 395l7 7M64 402l7 -7M64 397.5h7M67.5 394v7M64 394l7 7M64 401l7 -7M65 396.5h7M68.5 393v7M65 393l7 7M65 400l7 -7M65 395.5h7M68.5 392v7M65 392l7 7M65 399l7 -7M65 394.5h7M68.5 391v7M65 391l7 7M65 398l7 -7M65 392.5h7M68.5 389v7M65 389l7 7M65 396l7 -7M66 391.5h7M69.5 388v7M66 388l7 7M66 395l7 -7M66 390.5h7M69.5 387v7M66 387l7 7M66 394l7 -7M66 389.5h7M69.5 386v7M66 386l7 7M66 393l7 -7M67 388.5h7M70.5 385v7M67 385l7 7M67 392l7 -7M67 387.5h7M70.5 384v7M67 384l7 7M67 391l7 -7M67 386.5h7M70.5 383v7M67 383l7 7M67 390l7 -7M68 384.5h7M71.5 381v7M68 381l7 7M68 388l7 -7M68 383.5h7M71.5 380v7M68 380l7 7M68 387l7 -7M68 382.5h7M71.5 379v7M68 379l7 7M68 386l7 -7M69 381.5h7M72.5 378v7M69 378l7 7M69 385l7 -7M69 380.5h7M72.5 377v7M69 377l7 7M69 384l7 -7M69 379.5h7M72.5 376v7M69 376l7 7M69 383l7 -7M70 377.5h7M73.5 374v7M70 374l7 7M70 381l7 -7M70 376.5h7M73.5 373v7M70 373l7 7M70 380l7 -7M70 375.5h7M73.5 372v7M70 372l7 7M70 379l7 -7M70 374.5h7M73.5 371v7M70 371l7 7M70 378l7 -7M70 373.5h7M73.5 370v7M70 370l7 7M70 377l7 -7M70 372.5h7M73.5 369v7M70 369l7 7M70 376l7 -7M71 371.5h7M74.5 368v7M71 368l7 7M71 375l7 -7M71 369.5h7M74.5 366v7M71 366l7 7M71 373l7 -7M71 368.5h7M74.5 365v7M71 365l7 7M71 372l7 -7M72 367.5h7M75.5 364v7M72 364l7 7M72 371l7 -7M72 366.5h7M75.5 363v7M72 363l7 7M72 370l7 -7M72 365.5h7M75.5 362v7M72 362l7 7M72 369l7 -7M72 364.5h7M75.5 361v7M72 361l7 7M72 368l7 -7M73 363.5h7M76.5 360v7M73 360l7 7M73 367l7 -7M73 361.5h7M76.5 358v7M73 358l7 7M73 365l7 -7M74 360.5h7M77.5 357v7M74 357l7 7M74 364l7 -7M74 359.5h7M77.5 356v7M74 356l7 7M74 363l7 -7M75 358.5h7M78.5 355v7M75 355l7 7M75 362l7 -7M76 357.5h7M79.5 354v7M76 354l7 7M76 361l7 -7M77 356.5h7M80.5 353v7M77 353l7 7M77 360l7 -7M78 355.5h7M81.5 352v7M78 352l7 7M78 359l7 -7M79 353.5h7M82.5 350v7M79 350l7 7M79 357l7 -7M79 352.5h7M82.5 349v7M79 349l7 7M79 356l7 -7M80 351.5h7M83.5 348v7M80 348l7 7M80 355l7 -7M81 350.5h7M84.5 347v7M81 347l7 7M81 354l7 -7M81 349.5h7M84.5 346v7M81 346l7 7M81 353l7 -7M82 348.5h7M85.5 345v7M82 345l7 7M82 352l7 -7M82 346.5h7M85.5 343v7M82 343l7 7M82 350l7 -7M82 345.5h7M85.5 342v7M82 342l7 7M82 349l7 -7M82 344.5h7M85.5 341v7M82 341l7 7M82 348l7 -7M83 343.5h7M86.5 340v7M83 340l7 7M83 347l7 -7M83 342.5h7M86.5 339v7M83 339l7 7M83 346l7 -7M83 341.5h7M86.5 338v7M83 338l7 7M83 345l7 -7M83 340.5h7M86.5 337v7M83 337l7 7M83 344l7 -7M84 338.5h7M87.5 335v7M84 335l7 7M84 342l7 -7M85 337.5h7M88.5 334v7M85 334l7 7M85 341l7 -7M87 336.5h7M90.5 333v7M87 333l7 7M87 340l7 -7M89 335.5h7M92.5 332v7M89 332l7 7M89 339l7 -7M92 334.5h7M95.5 331v7M92 331l7 7M92 338l7 -7M94 333.5h7M97.5 330v7M94 330l7 7M94 337l7 -7M96 332.5h7M99.5 329v7M96 329l7 7M96 336l7 -7M99 330.5h7M102.5 327v7M99 327l7 7M99 334l7 -7M101 329.5h7M104.5 326v7M101 326l7 7M101 333l7 -7M103 328.5h7M106.5 325v7M103 325l7 7M103 332l7 -7M104 327.5h7M107.5 324v7M104 324l7 7M104 331l7 -7M106 326.5h7M109.5 323v7M106 323l7 7M106 330l7 -7M108 325.5h7M111.5 322v7M108 322l7 7M108 329l7 -7M109 323.5h7M112.5 320v7M109 320l7 7M109 327l7 -7M111 322.5h7M114.5 319v7M111 319l7 7M111 326l7 -7M112 321.5h7M115.5 318v7M112 318l7 7M112 325l7 -7M113 320.5h7M116.5 317v7M113 317l7 7M113 324l7 -7M115 319.5h7M118.5 316v7M115 316l7 7M115 323l7 -7M116 318.5h7M119.5 315v7M116 315l7 7M116 322l7 -7M118 317.5h7M121.5 314v7M118 314l7 7M118 321l7 -7M119 315.5h7M122.5 312v7M119 312l7 7M119 319l7 -7M120 314.5h7M123.5 311v7M120 311l7 7M120 318l7 -7M122 313.5h7M125.5 310v7M122 310l7 7M122 317l7 -7M123 312.5h7M126.5 309v7M123 309l7 7M123 316l7 -7M124 311.5h7M127.5 308v7M124 308l7 7M124 315l7 -7M125 310.5h7M128.5 307v7M125 307l7 7M125 314l7 -7M127 309.5h7M130.5 306v7M127 306l7 7M127 313l7 -7M128 307.5h7M131.5 304v7M128 304l7 7M128 311l7 -7M130 306.5h7M133.5 303v7M130 303l7 7M130 310l7 -7M131 305.5h7M134.5 302v7M131 302l7 7M131 309l7 -7M132 304.5h7M135.5 301v7M132 301l7 7M132 308l7 -7M149 303.5h7M152.5 300v7M149 300l7 7M149 307l7 -7M151 302.5h7M154.5 299v7M151 299l7 7M151 306l7 -7M154 301.5h7M157.5 298v7M154 298l7 7M154 305l7 -7M156 299.5h7M159.5 296v7M156 296l7 7M156 303l7 -7M159 298.5h7M162.5 295v7M159 295l7 7M159 302l7 -7M161 297.5h7M164.5 294v7M161 294l7 7M161 301l7 -7M164 296.5h7M167.5 293v7M164 293l7 7M164 300l7 -7M166 295.5h7M169.5 292v7M166 292l7 7M166 299l7 -7M168 294.5h7M171.5 291v7M168 291l7 7M168 298l7 -7M171 292.5h7M174.5 289v7M171 289l7 7M171 296l7 -7M173 291.5h7M176.5 288v7M173 288l7 7M173 295l7 -7M175 290.5h7M178.5 287v7M175 287l7 7M175 294l7 -7M176 289.5h7M179.5 286v7M176 286l7 7M176 293l7 -7M177 288.5h7M180.5 285v7M177 285l7 7M177 292l7 -7M178 287.5h7M181.5 284v7M178 284l7 7M178 291l7 -7M179 286.5h7M182.5 283v7M179 283l7 7M179 290l7 -7M182 284.5h7M185.5 281v7M182 281l7 7M182 288l7 -7M185 283.5h7M188.5 280v7M185 280l7 7M185 287l7 -7M188 282.5h7M191.5 279v7M188 279l7 7M188 286l7 -7M191 281.5h7M194.5 278v7M191 278l7 7M191 285l7 -7M193 280.5h7M196.5 277v7M193 277l7 7M193 284l7 -7M195 279.5h7M198.5 276v7M195 276l7 7M195 283l7 -7M196 278.5h7M199.5 275v7M196 275l7 7M196 282l7 -7M198 276.5h7M201.5 273v7M198 273l7 7M198 280l7 -7M200 275.5h7M203.5 272v7M200 272l7 7M200 279l7 -7M201 274.5h7M204.5 271v7M201 271l7 7M201 278l7 -7M215 273.5h7M218.5 270v7M215 270l7 7M215 277l7 -7M216 272.5h7M219.5 269v7M216 269l7 7M216 276l7 -7M217 271.5h7M220.5 268v7M217 268l7 7M217 275l7 -7M218 270.5h7M221.5 267v7M218 267l7 7M218 274l7 -7M219 268.5h7M222.5 265v7M219 265l7 7M219 272l7 -7M221 267.5h7M224.5 264v7M221 264l7 7M221 271l7 -7M222 266.5h7M225.5 263v7M222 263l7 7M222 270l7 -7M224 265.5h7M227.5 262v7M224 262l7 7M224 269l7 -7M226 264.5h7M229.5 261v7M226 261l7 7M226 268l7 -7M228 263.5h7M231.5 260v7M228 260l7 7M228 267l7 -7M230 261.5h7M233.5 258v7M230 258l7 7M230 265l7 -7M232 260.5h7M235.5 257v7M232 257l7 7M232 264l7 -7M245 259.5h7M248.5 256v7M245 256l7 7M245 263l7 -7M246 258.5h7M249.5 255v7M246 255l7 7M246 262l7 -7M248 257.5h7M251.5 254v7M248 254l7 7M248 261l7 -7M257 256.5h7M260.5 253v7M257 253l7 7M257 260l7 -7M266 255.5h7M269.5 252v7M266 252l7 7M266 259l7 -7M267 253.5h7M270.5 250v7M267 250l7 7M267 257l7 -7M269 252.5h7M272.5 249v7M269 249l7 7M269 256l7 -7M278 251.5h7M281.5 248v7M278 248l7 7M278 255l7 -7M279 250.5h7M282.5 247v7M279 247l7 7M279 254l7 -7M285 249.5h7M288.5 246v7M285 246l7 7M285 253l7 -7M292 248.5h7M295.5 245v7M292 245l7 7M292 252l7 -7M292 247.5h7M295.5 244v7M292 244l7 7M292 251l7 -7M319 245.5h7M322.5 242v7M319 242l7 7M319 249l7 -7M319 244.5h7M322.5 241v7M319 241l7 7M319 248l7 -7M319 243.5h7M322.5 240v7M319 240l7 7M319 247l7 -7M319 242.5h7M322.5 239v7M319 239l7 7M319 246l7 -7M320 241.5h7M323.5 238v7M320 238l7 7M320 245l7 -7M320 240.5h7M323.5 237v7M320 237l7 7M320 244l7 -7M320 239.5h7M323.5 236v7M320 236l7 7M320 243l7 -7M320 237.5h7M323.5 234v7M320 234l7 7M320 241l7 -7M320 236.5h7M323.5 233v7M320 233l7 7M320 240l7 -7M320 235.5h7M323.5 232v7M320 232l7 7M320 239l7 -7M320 234.5h7M323.5 231v7M320 231l7 7M320 238l7 -7M321 233.5h7M324.5 230v7M321 230l7 7M321 237l7 -7M321 232.5h7M324.5 229v7M321 229l7 7M321 236l7 -7M321 230.5h7M324.5 227v7M321 227l7 7M321 234l7 -7M321 229.5h7M324.5 226v7M321 226l7 7M321 233l7 -7M322 228.5h7M325.5 225v7M322 225l7 7M322 232l7 -7M322 227.5h7M325.5 224v7M322 224l7 7M322 231l7 -7M322 226.5h7M325.5 223v7M322 223l7 7M322 230l7 -7M322 225.5h7M325.5 222v7M322 222l7 7M322 229l7 -7M323 224.5h7M326.5 221v7M323 221l7 7M323 228l7 -7M323 222.5h7M326.5 219v7M323 219l7 7M323 226l7 -7M323 221.5h7M326.5 218v7M323 218l7 7M323 225l7 -7M325 220.5h7M328.5 217v7M325 217l7 7M325 224l7 -7M328 219.5h7M331.5 216v7M328 216l7 7M328 223l7 -7M331 218.5h7M334.5 215v7M331 215l7 7M331 222l7 -7M334 217.5h7M337.5 214v7M334 214l7 7M334 221l7 -7M336 216.5h7M339.5 213v7M336 213l7 7M336 220l7 -7M339 214.5h7M342.5 211v7M339 211l7 7M339 218l7 -7M342 213.5h7M345.5 210v7M342 210l7 7M342 217l7 -7M345 212.5h7M348.5 209v7M345 209l7 7M345 216l7 -7M346 211.5h7M349.5 208v7M346 208l7 7M346 215l7 -7M348 210.5h7M351.5 207v7M348 207l7 7M348 214l7 -7M350 209.5h7M353.5 206v7M350 206l7 7M350 213l7 -7M352 207.5h7M355.5 204v7M352 204l7 7M352 211l7 -7M354 206.5h7M357.5 203v7M354 203l7 7M354 210l7 -7M355 205.5h7M358.5 202v7M355 202l7 7M355 209l7 -7M356 204.5h7M359.5 201v7M356 201l7 7M356 208l7 -7M357 203.5h7M360.5 200v7M357 200l7 7M357 207l7 -7M368 202.5h7M371.5 199v7M368 199l7 7M368 206l7 -7M375 201.5h7M378.5 198v7M375 198l7 7M375 205l7 -7M377 199.5h7M380.5 196v7M377 196l7 7M377 203l7 -7M378 198.5h7M381.5 195v7M378 195l7 7M378 202l7 -7M380 197.5h7M383.5 194v7M380 194l7 7M380 201l7 -7M381 196.5h7M384.5 193v7M381 193l7 7M381 200l7 -7M394 195.5h7M397.5 192v7M394 192l7 7M394 199l7 -7M394 194.5h7M397.5 191v7M394 191l7 7M394 198l7 -7M395 193.5h7M398.5 190v7M395 190l7 7M395 197l7 -7M396 191.5h7M399.5 188v7M396 188l7 7M396 195l7 -7M396 190.5h7M399.5 187v7M396 187l7 7M396 194l7 -7M397 189.5h7M400.5 186v7M397 186l7 7M397 193l7 -7M398 188.5h7M401.5 185v7M398 185l7 7M398 192l7 -7M412 187.5h7M415.5 184v7M412 184l7 7M412 191l7 -7M415 186.5h7M418.5 183v7M415 183l7 7M415 190l7 -7M429 185.5h7M432.5 182v7M429 182l7 7M429 189l7 -7M430 183.5h7M433.5 180v7M430 180l7 7M430 187l7 -7M433 182.5h7M436.5 179v7M433 179l7 7M433 186l7 -7M436 181.5h7M439.5 178v7M436 178l7 7M436 185l7 -7M439 180.5h7M442.5 177v7M439 177l7 7M439 184l7 -7M440 179.5h7M443.5 176v7M440 176l7 7M440 183l7 -7M441 178.5h7M444.5 175v7M441 175l7 7M441 182l7 -7M442 176.5h7M445.5 173v7M442 173l7 7M442 180l7 -7M442 175.5h7M445.5 172v7M442 172l7 7M442 179l7 -7M443 174.5h7M446.5 171v7M443 171l7 7M443 178l7 -7M444 173.5h7M447.5 170v7M444 170l7 7M444 177l7 -7M445 172.5h7M448.5 169v7M445 169l7 7M445 176l7 -7M450 171.5h7M453.5 168v7M450 168l7 7M450 175l7 -7M456 170.5h7M459.5 167v7M456 167l7 7M456 174l7 -7M471 168.5h7M474.5 165v7M471 165l7 7M471 172l7 -7M472 167.5h7M475.5 164v7M472 164l7 7M472 171l7 -7M474 166.5h7M477.5 163v7M474 163l7 7M474 170l7 -7M476 165.5h7M479.5 162v7M476 162l7 7M476 169l7 -7M478 164.5h7M481.5 161v7M478 161l7 7M478 168l7 -7M480 163.5h7M483.5 160v7M480 160l7 7M480 167l7 -7M486 162.5h7M489.5 159v7M486 159l7 7M486 166l7 -7M488 160.5h7M491.5 157v7M488 157l7 7M488 164l7 -7M490 159.5h7M493.5 156v7M490 156l7 7M490 163l7 -7M491 158.5h7M494.5 155v7M491 155l7 7M491 162l7 -7M493 157.5h7M496.5 154v7M493 154l7 7M493 161l7 -7M509 156.5h7M512.5 153v7M509 153l7 7M509 160l7 -7M512 155.5h7M515.5 152v7M512 152l7 7M512 159l7 -7M517 154.5h7M520.5 151v7M517 151l7 7M517 158l7 -7M527 152.5h7M530.5 149v7M527 149l7 7M527 156l7 -7M529 151.5h7M532.5 148v7M529 148l7 7M529 155l7 -7M531 150.5h7M534.5 147v7M531 147l7 7M531 154l7 -7M543 149.5h7M546.5 146v7M543 146l7 7M543 153l7 -7M543 148.5h7M546.5 145v7M543 145l7 7M543 152l7 -7M544 147.5h7M547.5 144v7M544 144l7 7M544 151l7 -7M545 145.5h7M548.5 142v7M545 142l7 7M545 149l7 -7M545 144.5h7M548.5 141v7M545 141l7 7M545 148l7 -7M545 143.5h7M548.5 140v7M545 140l7 7M545 147l7 -7M546 142.5h7M549.5 139v7M546 139l7 7M546 146l7 -7M546 141.5h7M549.5 138v7M546 138l7 7M546 145l7 -7M546 140.5h7M549.5 137v7M546 137l7 7M546 144l7 -7M547 139.5h7M550.5 136v7M547 136l7 7M547 143l7 -7M547 137.5h7M550.5 134v7M547 134l7 7M547 141l7 -7M548 136.5h7M551.5 133v7M548 133l7 7M548 140l7 -7M548 135.5h7M551.5 132v7M548 132l7 7M548 139l7 -7M549 134.5h7M552.5 131v7M549 131l7 7M549 138l7 -7M550 133.5h7M553.5 130v7M550 130l7 7M550 137l7 -7M550 132.5h7M553.5 129v7M550 129l7 7M550 136l7 -7M551 131.5h7M554.5 128v7M551 128l7 7M551 135l7 -7M551 129.5h7M554.5 126v7M551 126l7 7M551 133l7 -7M552 128.5h7M555.5 125v7M552 125l7 7M552 132l7 -7M552 127.5h7M555.5 124v7M552 124l7 7M552 131l7 -7M553 126.5h7M556.5 123v7M553 123l7 7M553 130l7 -7M553 125.5h7M556.5 122v7M553 122l7 7M553 129l7 -7M554 124.5h7M557.5 121v7M554 121l7 7M554 128l7 -7M554 122.5h7M557.5 119v7M554 119l7 7M554 126l7 -7M554 121.5h7M557.5 118v7M554 118l7 7M554 125l7 -7M554 120.5h7M557.5 117v7M554 117l7 7M554 124l7 -7M554 119.5h7M557.5 116v7M554 116l7 7M554 123l7 -7M554 118.5h7M557.5 115v7M554 115l7 7M554 122l7 -7M554 117.5h7M557.5 114v7M554 114l7 7M554 121l7 -7M555 116.5h7M558.5 113v7M555 113l7 7M555 120l7 -7M555 114.5h7M558.5 111v7M555 111l7 7M555 118l7 -7M556 113.5h7M559.5 110v7M556 110l7 7M556 117l7 -7M556 112.5h7M559.5 109v7M556 109l7 7M556 116l7 -7M556 111.5h7M559.5 108v7M556 108l7 7M556 115l7 -7M557 110.5h7M560.5 107v7M557 107l7 7M557 114l7 -7M557 109.5h7M560.5 106v7M557 106l7 7M557 113l7 -7M557 108.5h7M560.5 105v7M557 105l7 7M557 112l7 -7M558 106.5h7M561.5 103v7M558 103l7 7M558 110l7 -7M558 105.5h7M561.5 102v7M558 102l7 7M558 109l7 -7M558 104.5h7M561.5 101v7M558 101l7 7M558 108l7 -7M559 103.5h7M562.5 100v7M559 100l7 7M559 107l7 -7M559 102.5h7M562.5 99v7M559 99l7 7M559 106l7 -7M559 101.5h7M562.5 98v7M559 98l7 7M559 105l7 -7M560 100.5h7M563.5 97v7M560 97l7 7M560 104l7 -7M560 98.5h7M563.5 95v7M560 95l7 7M560 102l7 -7M560 97.5h7M563.5 94v7M560 94l7 7M560 101l7 -7M561 96.5h7M564.5 93v7M561 93l7 7M561 100l7 -7M561 95.5h7M564.5 92v7M561 92l7 7M561 99l7 -7M562 94.5h7M565.5 91v7M562 91l7 7M562 98l7 -7M562 93.5h7M565.5 90v7M562 90l7 7M562 97l7 -7M563 91.5h7M566.5 88v7M563 88l7 7M563 95l7 -7M563 90.5h7M566.5 87v7M563 87l7 7M563 94l7 -7M564 89.5h7M567.5 86v7M564 86l7 7M564 93l7 -7M564 88.5h7M567.5 85v7M564 85l7 7M564 92l7 -7M565 87.5h7M568.5 84v7M565 84l7 7M565 91l7 -7M565 86.5h7M568.5 83v7M565 83l7 7M565 90l7 -7M566 85.5h7M569.5 82v7M566 82l7 7M566 89l7 -7M566 83.5h7M569.5 80v7M566 80l7 7M566 87l7 -7M567 82.5h7M570.5 79v7M567 79l7 7M567 86l7 -7M567 81.5h7M570.5 78v7M567 78l7 7M567 85l7 -7M568 80.5h7M571.5 77v7M568 77l7 7M568 84l7 -7M569 79.5h7M572.5 76v7M569 76l7 7M569 83l7 -7M569 78.5h7M572.5 75v7M569 75l7 7M569 82l7 -7M570 77.5h7M573.5 74v7M570 74l7 7M570 81l7 -7M571 75.5h7M574.5 72v7M571 72l7 7M571 79l7 -7M571 74.5h7M574.5 71v7M571 71l7 7M571 78l7 -7M572 73.5h7M575.5 70v7M572 70l7 7M572 77l7 -7M573 72.5h7M576.5 69v7M573 69l7 7M573 76l7 -7M574 71.5h7M577.5 68v7M574 68l7 7M574 75l7 -7M576 70.5h7M579.5 67v7M576 67l7 7M576 74l7 -7M577 69.5h7M580.5 66v7M577 66l7 7M577 73l7 -7M579 67.5h7M582.5 64v7M579 64l7 7M579 71l7 -7M582 66.5h7M585.5 63v7M582 63l7 7M582 70l7 -7M585 65.5h7M588.5 62v7M585 62l7 7M585 69l7 -7M588 64.5h7M591.5 61v7M588 61l7 7M588 68l7 -7M591 63.5h7M594.5 60v7M591 60l7 7M591 67l7 -7M593 62.5h7M596.5 59v7M593 59l7 7M593 66l7 -7M595 60.5h7M598.5 57v7M595 57l7 7M595 64l7 -7M596 59.5h7M599.5 56v7M596 56l7 7M596 63l7 -7M597 58.5h7M600.5 55v7M597 55l7 7M597 62l7 -7M598 57.5h7M601.5 54v7M598 54l7 7M598 61l7 -7M600 56.5h7M603.5 53v7M600 53l7 7M600 60l7 -7M600 55.5h7M603.5 52v7M600 52l7 7M600 59l7 -7M601 54.5h7M604.5 51v7M601 51l7 7M601 58l7 -7M602 52.5h7M605.5 49v7M602 49l7 7M602 56l7 -7M602 51.5h7M605.5 48v7M602 48l7 7M602 55l7 -7M603 50.5h7M606.5 47v7M603 47l7 7M603 54l7 -7M604 49.5h7M607.5 46v7M604 46l7 7M604 53l7 -7M605 48.5h7M608.5 45v7M605 45l7 7M605 52l7 -7M606 47.5h7M609.5 44v7M606 44l7 7M606 51l7 -7M607 46.5h7M610.5 43v7M607 43l7 7M607 50l7 -7M609 44.5h7M612.5 41v7M609 41l7 7M609 48l7 -7M611 43.5h7M614.5 40v7M611 40l7 7M611 47l7 -7M613 42.5h7M616.5 39v7M613 39l7 7M613 46l7 -7" fill="none" stroke="#0080ff"/>
<polyline points="57.5,440.5 57.5,435.5 57.5,431.5 59.5,425.5 60.5,422.5 62.5,417.5 65.5,414.5 67.5,412.5 69.5,408.5 70.5,405.5 70.5,394.5 72.5,391.5 74.5,386.5 75.5,379.5 76.5,374.5 78.5,371.5 80.5,370.5 82.5,367.5 84.5,363.5 85.5,357.5 86.5,354.5 87.5,351.5 89.5,349.5 91.5,349.5 96.5,348.5 100.5,345.5 109.5,340.5 116.5,333.5 124.5,326.5 129.5,323.5 134.5,321.5 135.5,319.5 155.5,316.5 167.5,310.5 186.5,301.5 202.5,294.5 205.5,291.5 212.5,290.5 217.5,289.5 221.5,286.5 230.5,283.5 233.5,280.5 246.5,279.5 247.5,278.5 267.5,277.5 268.5,276.5 280.5,275.5 281.5,271.5 298.5,268.5 323.5,266.5 325.5,252.5 326.5,247.5 330.5,245.5 335.5,242.5 340.5,240.5 345.5,239.5 350.5,238.5 355.5,235.5 358.5,232.5 380.5,228.5 383.5,223.5 398.5,221.5 400.5,217.5 402.5,216.5 411.5,215.5 420.5,214.5 435.5,212.5 443.5,208.5 448.5,204.5 476.5,201.5 480.5,198.5 486.5,195.5 498.5,191.5 515.5,190.5 525.5,188.5 537.5,185.5 547.5,183.5 550.5,177.5 553.5,171.5 557.5,163.5 559.5,158.5 560.5,150.5 563.5,140.5 570.5,133.5 575.5,128.5 577.5,125.5 582.5,121.5 584.5,118.5 590.5,114.5 595.5,112.5 601.5,110.5 604.5,107.5 609.5,100.5 613.5,95.5 618.5,94.5 620.5,94.5" fill="none" stroke="#c000ff" />
<rect x="55.5" y="38.5" width="566" height="402" fill="none" stroke="#000"/>
<g filter="url(#crisp)"><text transform="translate(43.00 445.00) scale(0.8332 1)" x="0.00" ><tspan x="0.40" class="z">0</tspan></text><text transform="translate(37.00 388.00) scale(0.8332 1)" x="0.00 7.20" >5<tspan x="7.60" class="z">0</tspan></text><text transform="translate(31.00 330.00) scale(0.8332 1)" x="0.00 7.20 14.40" >1<tspan x="7.60" class="z">0</tspan><tspan x="14.80" class="z">0</tspan></text><text transform="translate(31.00 273.00) scale(0.8332 1)" x="0.00 7.20 14.40" >15<tspan x="14.80" class="z">0</tspan></text><text transform="translate(31.00 215.00) scale(0.8332 1)" x="0.00 7.20 14.40" >2<tspan x="7.60" class="z">0</tspan><tspan x="14.80" class="z">0</tspan></text><text transform="translate(31.00 158.00) scale(0.8332 1)" x="0.00 7.20 14.40" >25<tspan x="14.80" class="z">0</tspan></text><text transform="translate(31.00 100.00) scale(0.8332 1)" x="0.00 7.20 14.40" >3<tspan x="7.60" class="z">0</tspan><tspan x="14.80" class="z">0</tspan></text><text transform="translate(31.00 43.00) scale(0.8332 1)" x="0.00 7.20 14.40" >35<tspan x="14.80" class="z">0</tspan></text><text transform="translate(31.00 458.00) scale(0.8332 1)" x="0.00 7.20 14.40 21.60 28.80 36.01 43.21 50.41" >12/18/<tspan x="43.61" class="z">0</tspan>5</text><text transform="translate(40.00 471.00) scale(0.8332 1)" x="0.00 7.20 14.40 21.60 28.80" ><tspan x="0.40" class="z">0</tspan><tspan x="7.60" class="z">0</tspan>:<tspan x="22.00" class="z">0</tspan><tspan x="29.20" class="z">0</tspan></text><text transform="translate(71.00 458.00) scale(0.8332 1)" x="0.00 7.20 14.40 21.60 28.80 36.01 43.21 50.41" >12/19/<tspan x="43.61" class="z">0</tspan>5</text><text transform="translate(80.00 471.00) scale(0.8332 1)" x="0.00 7.20 14.40 21.60 28.80" ><tspan x="0.40" class="z">0</tspan><tspan x="7.60" class="z">0</tspan>:<tspan x="22.00" class="z">0</tspan><tspan x="29.20" class="z">0</tspan></text><text transform="translate(112.00 458.00) scale(0.8332 1)" x="0.00 7.20 14.40 21.60 28.80 36.01 43.21 50.41" >12/2<tspan x="29.20" class="z">0</tspan>/<tspan x="43.61" class="z">0</tspan>5</text><text transform="translate(121.00 471.00) scale(0.8332 1)" x="0.00 7.20 14.40 21.60 28.80" ><tspan x="0.40" class="z">0</tspan><tspan x="7.60" class="z">0</tspan>:<tspan x="22.00" class="z">0</tspan><tspan x="29.20" class="z">0</tspan></text><text transform="translate(152.00 458.00) scale(0.8332 1)" x="0.00 7.20 14.40 21.60 28.80 36.01 43.21 50.41" >12/21/<tspan x="43.61" class="z">0</tspan>5</text><text transform="translate(161.00 471.00) scale(0.8332 1)" x="0.00 7.20 14.40 21.60 28.80" ><tspan x="0.40" class="z">0</tspan><tspan x="7.60" class="z">0</tspan>:<tspan x="22.00" class="z">0</tspan><tspan x="29.20" class="z">0</tspan></text><text transform="translate(193.00 458.00) scale(0.8332 1)" x="0.00 7.20 14.40 21.60 28.80 36.01 43.21 50.41" >12/22/<tspan x="43.61" class="z">0</tspan>5</text><text transform="translate(202.00 471.00) scale(0.8332 1)" x="0.00 7.20 14.40 21.60 28.80" ><tspan x="0.40" class="z">0</tspan><tspan x="7.60" class="z">0</tspan>:<tspan x="22.00" class="z">0</tspan><tspan x="29.20" class="z">0</tspan></text><text transform="translate(233.00 458.00) scale(0.8332 1)" x="0.00 7.20 14.40 21.60 28.80 36.01 43.21 50.41" >12/23/<tspan x="43.61" class="z">0</tspan>5</text><text transform="translate(242.00 471.00) scale(0.8332 1)" x="0.00 7.20 14.40 21.60 28.80" ><tspan x="0.40" class="z">0</tspan><tspan x="7.60" class="z">0</tspan>:<tspan x="22.00" class="z">0</tspan><tspan x="29.20" class="z">0</tspan></text><text transform="translate(274.00 458.00) scale(0.8332 1)" x="0.00 7.20 14.40 21.60 28.80 36.01 43.21 50.41" >12/24/<tspan x="43.61" class="z">0</tspan>5</text><text transform="translate(283.00 471.00) scale(0.8332 1)" x="0.00 7.20 14.40 21.60 28.80" ><tspan x="0.40" class="z">0</tspan><tspan x="7.60" class="z">0</tspan>:<tspan x="22.00" class="z">0</tspan><tspan x="29.20" class="z">0</tspan></text><text transform="translate(314.00 458.00) scale(0.8332 1)" x="0.00 7.20 14.40 21.60 28.80 36.01 43.21 50.41" >12/25/<tspan x="43.61" class="z">0</tspan>5</text><text transform="translate(323.00 471.00) scale(0.8332 1)" x="0.00 7.20 14.40 21.60 28.80" ><tspan x="0.40" class="z">0</tspan><tspan x="7.60" class="z">0</tspan>:<tspan x="22.00" class="z">0</tspan><tspan x="29.20" class="z">0</tspan></text><text transform="translate(354.00 458.00) scale(0.8332 1)" x="0.00 7.20 14.40 21.60 28.80 36.01 43.21 50.41" >12/26/<tspan x="43.61" class="z">0</tspan>5</text><text transform="translate(363.00 471.00) scale(0.8332 1)" x="0.00 7.20 14.40 21.60 28.80" ><tspan x="0.40" class="z">0</tspan><tspan x="7.60" class="z">0</tspan>:<tspan x="22.00" class="z">0</tspan><tspan x="29.20" class="z">0</tspan></text><text transform="translate(395.00 458.00) scale(0.8332 1)" x="0.00 7.20 14.40 21.60 28.80 36.01 43.21 50.41" >12/27/<tspan x="43.61" class="z">0</tspan>5</text><text transform="translate(404.00 471.00) scale(0.8332 1)" x="0.00 7.20 14.40 21.60 28.80" ><tspan x="0.40" class="z">0</tspan><tspan x="7.60" class="z">0</tspan>:<tspan x="22.00" class="z">0</tspan><tspan x="29.20" class="z">0</tspan></text><text transform="translate(435.00 458.00) scale(0.8332 1)" x="0.00 7.20 14.40 21.60 28.80 36.01 43.21 50.41" >12/28/<tspan x="43.61" class="z">0</tspan>5</text><text transform="translate(444.00 471.00) scale(0.8332 1)" x="0.00 7.20 14.40 21.60 28.80" ><tspan x="0.40" class="z">0</tspan><tspan x="7.60" class="z">0</tspan>:<tspan x="22.00" class="z">0</tspan><tspan x="29.20" class="z">0</tspan></text><text transform="translate(476.00 458.00) scale(0.8332 1)" x="0.00 7.20 14.40 21.60 28.80 36.01 43.21 50.41" >12/29/<tspan x="43.61" class="z">0</tspan>5</text><text transform="translate(485.00 471.00) scale(0.8332 1)" x="0.00 7.20 14.40 21.60 28.80" ><tspan x="0.40" class="z">0</tspan><tspan x="7.60" class="z">0</tspan>:<tspan x="22.00" class="z">0</tspan><tspan x="29.20" class="z">0</tspan></text><text transform="translate(516.00 458.00) scale(0.8332 1)" x="0.00 7.20 14.40 21.60 28.80 36.01 43.21 50.41" >12/3<tspan x="29.20" class="z">0</tspan>/<tspan x="43.61" class="z">0</tspan>5</text><text transform="translate(525.00 471.00) scale(0.8332 1)" x="0.00 7.20 14.40 21.60 28.80" ><tspan x="0.40" class="z">0</tspan><tspan x="7.60" class="z">0</tspan>:<tspan x="22.00" class="z">0</tspan><tspan x="29.20" class="z">0</tspan></text><text transform="translate(557.00 458.00) scale(0.8332 1)" x="0.00 7.20 14.40 21.60 28.80 36.01 43.21 50.41" >12/31/<tspan x="43.61" class="z">0</tspan>5</text><text transform="translate(566.00 471.00) scale(0.8332 1)" x="0.00 7.20 14.40 21.60 28.80" ><tspan x="0.40" class="z">0</tspan><tspan x="7.60" class="z">0</tspan>:<tspan x="22.00" class="z">0</tspan><tspan x="29.20" class="z">0</tspan></text><text transform="translate(597.00 458.00) scale(0.8332 1)" x="0.00 7.20 14.40 21.60 28.80 36.01 43.21 50.41" ><tspan x="0.40" class="z">0</tspan>1/<tspan x="22.00" class="z">0</tspan>1/<tspan x="43.61" class="z">0</tspan>6</text><text transform="translate(606.00 471.00) scale(0.8332 1)" x="0.00 7.20 14.40 21.60 28.80" ><tspan x="0.40" class="z">0</tspan><tspan x="7.60" class="z">0</tspan>:<tspan x="22.00" class="z">0</tspan><tspan x="29.20" class="z">0</tspan></text><text transform="translate(236.00 23.00) scale(0.8332 1)" x="0.00 7.20 14.40 21.60 28.80 36.01 43.21 50.41 57.61 64.81 72.01 79.21 86.41 93.62 100.82 108.02 115.22 122.42 129.62 136.82 144.02 151.22 158.43 165.63 172.83 180.03 187.23 194.43 201.63 208.83 216.04 223.24 230.44 237.64" >Declassification of debian-private</text><text transform="translate(293.00 477.00) scale(0.8332 1)" x="0.00 7.20 14.40 21.60 28.80 36.01 43.21 50.41 57.61 64.81 72.01 79.21 86.41 93.62 100.82" >Date/Time (UTC)</text><g transform="translate(18,261) rotate(-90)"><text transform="translate(0.00 0.00) scale(0.8332 1)" x="0.00 7.20 14.40 21.60 28.80 36.01 43.21" >Ballots</text></g><text transform="translate(60.00 53.00) scale(0.8332 1)" x="0.00 7.20 14.40 21.60 28.80 36.01 43.21 50.41 57.61 64.81 72.01 79.21 86.41 93.62 100.82 108.02" >Rejected Ballots</text><text transform="translate(78.00 66.00) scale(0.8332 1)" x="0.00 7.20 14.40 21.60 28.80 36.01 43.21 50.41 57.61 64.81 72.01 79.21 86.41" >Vote Tallied,</text><text transform="translate(60.00 79.00) scale(0.8332 1)" x="0.00 7.20 14.40 21.60 28.80 36.01 43.21 50.41 57.61 64.81 72.01 79.21 86.41 93.62 100.82 108.02" >Received Ballots</text><text transform="translate(60.00 92.00) scale(0.8332 1)" x="0.00 7.20 14.40 21.60 28.80 36.01 43.21 50.41 57.61 64.81 72.01 79.21 86.41 93.62 100.82 108.02" >Acknowledgements</text></g>
</svg></body></html>
